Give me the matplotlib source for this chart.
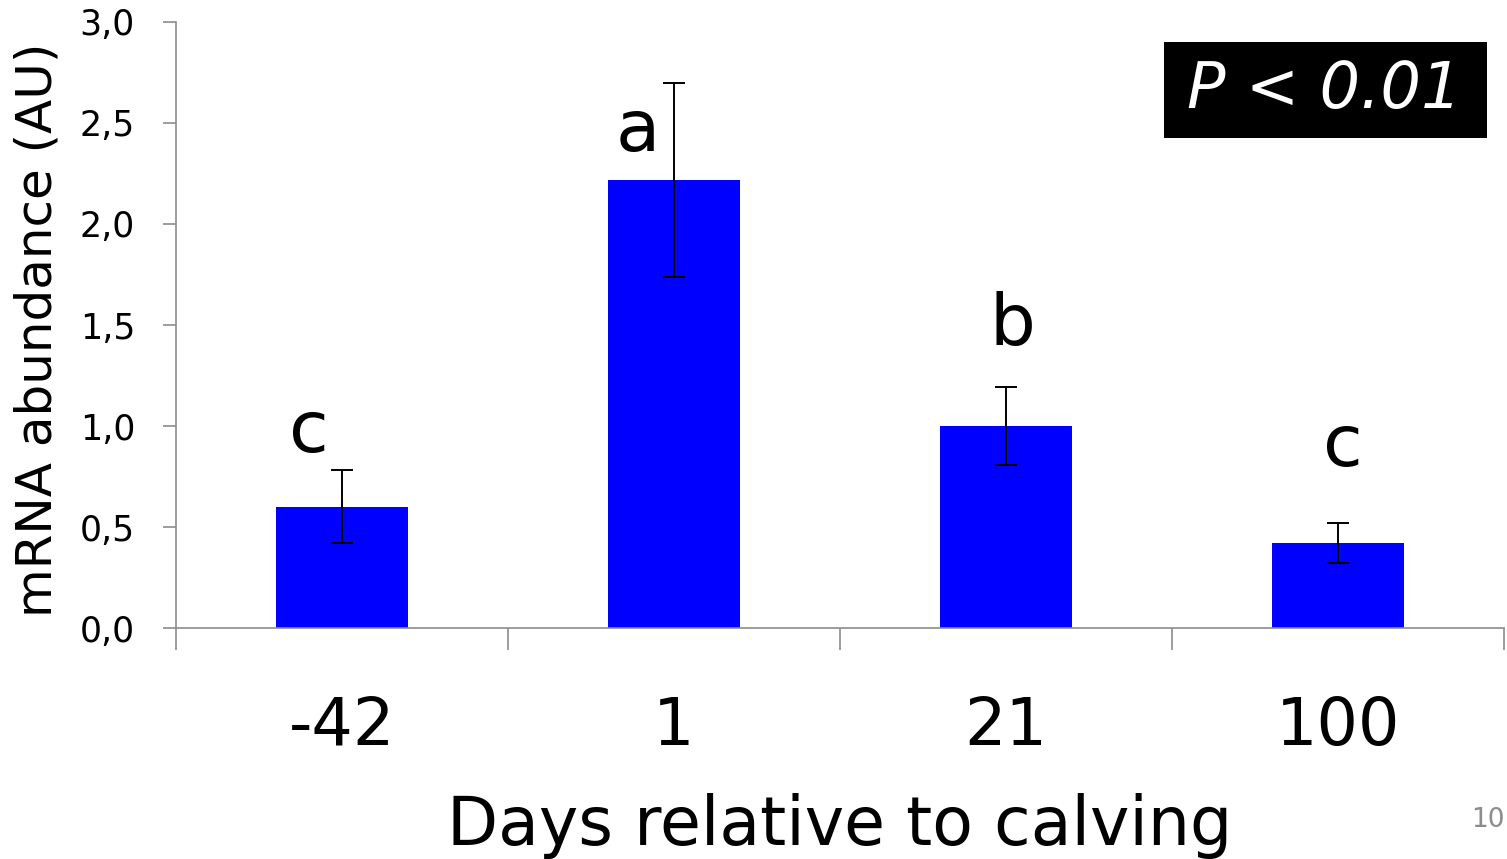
import numpy as np
import matplotlib.pyplot as plt
from matplotlib.patches import Rectangle
from matplotlib.ticker import FixedLocator

# data
days = ['-42', '1', '21', '100']
mrna = [0.60, 2.22, 1.00, 0.42]
sem = [0.18, 0.48, 0.195, 0.10]
letters = ['c', 'a', 'b', 'c']
ytick_vals = [0.0, 0.5, 1.0, 1.5, 2.0, 2.5, 3.0]
ytick_labels = ['0,0', '0,5', '1,0', '1,5', '2,0', '2,5', '3,0']

plt.rcParams['font.family'] = ['DejaVu Sans']
grey = '#8c8c8c'

fig = plt.figure(figsize=(15.07, 8.59), dpi=100)
ax = fig.add_axes([0.1168, 0.2689, 0.8812, 0.7055])

x = np.arange(len(days))
ax.bar(x, mrna, width=0.4, color='#0000ff', zorder=2)
ax.errorbar(x, mrna, yerr=sem, fmt='none', ecolor='black', elinewidth=1.4,
            capsize=8, capthick=1.4, zorder=3)

# significance letters (offsets keep them clear of the error bars)
let_dx = [-0.10, -0.11, 0.02, 0.015]
let_dy = [0.09, -0.34, 0.205, 0.28]
for i in range(len(days)):
    ax.text(x[i] + let_dx[i], mrna[i] + sem[i] + let_dy[i], letters[i],
            ha='center', va='baseline', fontsize=52)

ax.set_xlim(-0.5, len(days) - 0.5)
ax.set_ylim(0, 3.0)
ax.set_yticks(ytick_vals)
ax.set_yticklabels(ytick_labels)
ax.set_xticks(x)
ax.set_xticklabels(days)
ax.xaxis.set_minor_locator(FixedLocator(np.arange(-0.5, len(days), 1.0)))
ax.tick_params(axis='x', which='major', length=0, pad=48, labelsize=47)
ax.tick_params(axis='x', which='minor', length=16, width=1.2, color=grey)
ax.tick_params(axis='y', length=9.5, width=1.2, color=grey, pad=20, labelsize=25)

for s in ['top', 'right']:
    ax.spines[s].set_visible(False)
for s in ['left', 'bottom']:
    ax.spines[s].set_color(grey)
    ax.spines[s].set_linewidth(1.2)

# P-value box
ax.add_patch(Rectangle((0.744, 0.8086), 0.243, 0.1584, transform=ax.transAxes,
                       facecolor='black', edgecolor='none', clip_on=False, zorder=4))
ax.text(0.865, 0.888, 'P < 0.01', transform=ax.transAxes, ha='center', va='center',
        fontsize=46, style='italic', color='white', zorder=5)

fig.text(0.025, 0.616, 'mRNA abundance (AU)', rotation=90, ha='center', va='center',
         fontsize=36)
fig.text(0.557, 0.0163, 'Days relative to calving', ha='center', va='baseline',
         fontsize=48)
fig.text(0.976, 0.037, '10', ha='left', va='baseline', fontsize=19, color=grey)

fig.savefig('out.png', dpi=100)
